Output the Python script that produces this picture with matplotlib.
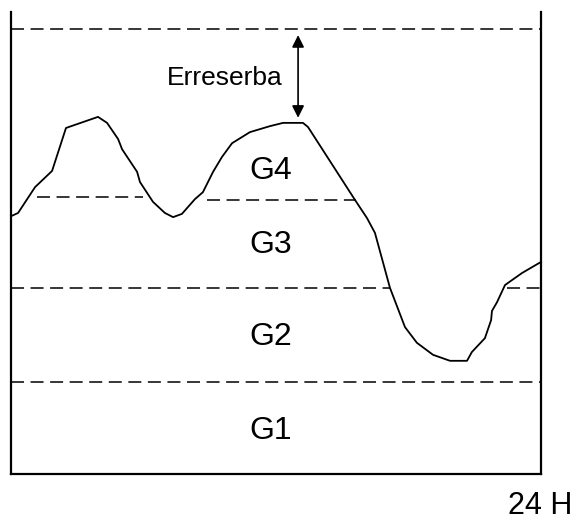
import matplotlib
matplotlib.use("Agg")
import matplotlib.pyplot as plt

plt.rcParams['font.family'] = ['Liberation Sans', 'DejaVu Sans']

# daily load curve (hour, load in % of the top of the axis)
hours = [0, 0.32, 1.09, 1.86, 2.49, 3.94, 4.35, 4.85, 5.03, 5.71, 5.84, 6.43,
         6.97, 7.34, 7.74, 8.33, 8.69, 9.15, 9.55, 10.01, 10.82, 11.73, 12.32,
         13.22, 13.45, 15.58, 16.12, 16.48, 17.16, 17.84, 18.38, 19.11, 19.88,
         20.65, 20.87, 21.46, 21.74, 21.78, 22.01, 22.37, 23.14, 24.0]
load = [55.8, 56.5, 62.1, 65.6, 74.9, 77.3, 76.0, 72.5, 70.3, 65.4, 63.2, 58.9,
        56.5, 55.6, 56.3, 59.5, 61.0, 65.4, 68.6, 71.6, 74.0, 75.3, 76.0,
        76.0, 75.1, 59.3, 55.4, 52.2, 40.3, 31.8, 28.4, 25.8, 24.5,
        24.5, 26.4, 29.4, 33.3, 35.3, 37.2, 40.9, 43.5, 45.9]

# dashed level segments: (level, start hour, end hour)
level_segments = [
    (96.3, 0, 24),        # installed capacity
    (59.9, 1.18, 5.98),   # G3 / G4
    (59.2, 8.87, 15.62),
    (40.3, 0, 17.16),     # G2 / G3
    (40.3, 22.46, 24),
    (19.9, 0, 24),        # G1 / G2
]

group_names = ['G4', 'G3', 'G2', 'G1']
group_y = [65.6, 49.5, 29.7, 9.4]
group_x = 11.77

reserve_label = 'Erreserba'
reserve_top = 95.0
reserve_bottom = 77.1
reserve_x = 13.0

fig = plt.figure(figsize=(5.74, 5.20), dpi=100)
ax = fig.add_axes([11 / 574, 46 / 520, 530 / 574, 462 / 520])
ax.set_xlim(0, 24)
ax.set_ylim(0, 100)

for y, x0, x1 in level_segments:
    ax.plot([x0, x1], [y, y], color='black', linewidth=1.1,
            linestyle=(0, (8.5, 4.3)), clip_on=False)

ax.plot(hours, load, color='black', linewidth=1.3, clip_on=False)

for name, y in zip(group_names, group_y):
    ax.text(group_x, y, name, fontsize=23, ha='center', va='center')

ax.text(9.7, 85.7, reserve_label, fontsize=19, ha='center', va='center')
ax.annotate('', xy=(reserve_x, reserve_bottom), xytext=(reserve_x, reserve_top),
            arrowprops=dict(arrowstyle='<|-|>', color='black', lw=1.2,
                            mutation_scale=18, shrinkA=0, shrinkB=0))

ax.text(23.95, -6.9, '24 H', fontsize=22, ha='center', va='center', clip_on=False)

ax.spines['top'].set_visible(False)
for side in ['left', 'right', 'bottom']:
    ax.spines[side].set_linewidth(1.6)
ax.set_xticks([])
ax.set_yticks([])

fig.savefig('out.png', dpi=100)
